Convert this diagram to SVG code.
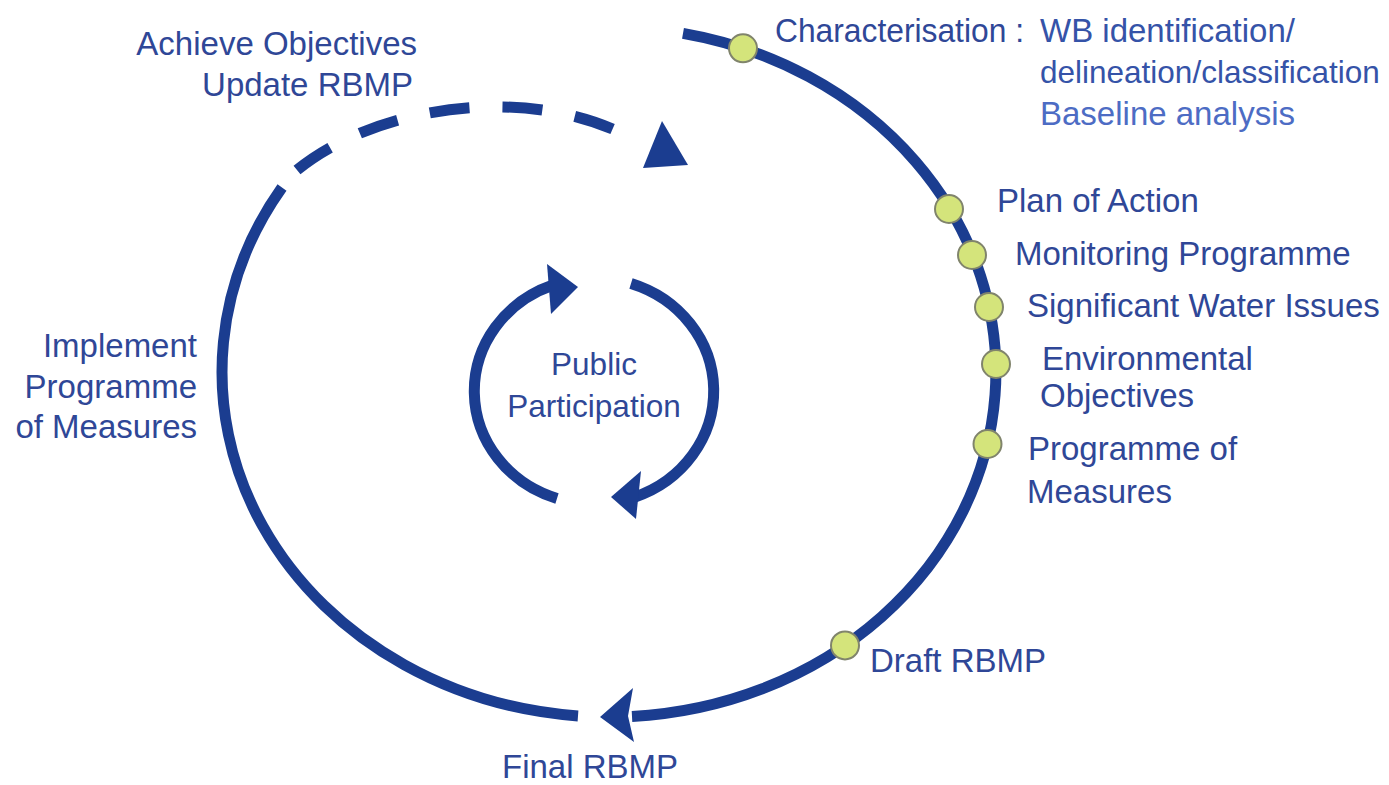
<svg xmlns="http://www.w3.org/2000/svg" width="1389" height="785" viewBox="0 0 1389 785">
<style>
.line{fill:none;stroke:#1b3d90;stroke-width:11;stroke-linecap:butt}
.dash{stroke-dasharray:40 33 40 33 40 33 40 33 40 80}
.head{fill:#1b3d90}
.dot{fill:#d4e47b;stroke:#80846c;stroke-width:2}
.t{font-family:"Liberation Sans",Arial,sans-serif;font-size:33px;fill:#2f4797}
.c{fill:#3553a8}
.b{fill:#4d6cc4}
.pp{font-size:31.5px;text-anchor:middle}
.r{text-anchor:end}
</style>
<rect width="1389" height="785" fill="#ffffff"/>
<g id="connectors">
  <path class="line" d="M 683 33.4 A 387 345 0 0 1 632 716.4"/>
  <polygon class="head" points="600,717 633,688 628,716 634,742"/>
  <path class="line" d="M 578 715.9 A 387 345 0 0 1 282 187.5"/>
  <path class="line dash" d="M 297 170 C 390 95, 560 85, 650 150"/>
  <polygon class="head" points="662,121 643,168 688,165"/>
  <path class="line" d="M 557 498.5 A 120 113 0 0 1 553 285"/>
  <polygon class="head" points="547,264 551,314 578,287"/>
  <path class="line" d="M 631 283.5 A 120 113 0 0 1 635 497"/>
  <polygon class="head" points="641,471 636,519 611,497"/>
</g>
<g id="achieve-objectives">
  <text class="t r" x="417" y="55">Achieve Objectives</text>
  <text class="t r" x="413" y="96">Update RBMP</text>
</g>
<g id="characterisation">
  <circle class="dot" cx="743" cy="48.3" r="14"/>
  <text class="t" x="775" y="42" textLength="249" lengthAdjust="spacingAndGlyphs">Characterisation :</text>
  <text class="t c" x="1040" y="42">WB identification/</text>
  <text class="t c" x="1040" y="83" style="font-size:31.5px">delineation/classification</text>
  <text class="t b" x="1040" y="125">Baseline analysis</text>
</g>
<g id="plan-of-action">
  <circle class="dot" cx="949" cy="209" r="14"/>
  <text class="t" x="997" y="212">Plan of Action</text>
</g>
<g id="monitoring-programme">
  <circle class="dot" cx="972" cy="255" r="14"/>
  <text class="t" x="1015" y="265">Monitoring Programme</text>
</g>
<g id="significant-water-issues">
  <circle class="dot" cx="989" cy="307" r="14"/>
  <text class="t" x="1027" y="317">Significant Water Issues</text>
</g>
<g id="environmental-objectives">
  <circle class="dot" cx="996" cy="364" r="14"/>
  <text class="t" x="1042" y="370">Environmental</text>
  <text class="t" x="1040" y="407">Objectives</text>
</g>
<g id="programme-of-measures">
  <circle class="dot" cx="987.5" cy="444" r="14"/>
  <text class="t" x="1028" y="460">Programme of</text>
  <text class="t" x="1027" y="503">Measures</text>
</g>
<g id="draft-rbmp">
  <circle class="dot" cx="845" cy="645.4" r="14"/>
  <text class="t" x="870" y="672">Draft RBMP</text>
</g>
<g id="final-rbmp">
  <text class="t" x="502" y="778">Final RBMP</text>
</g>
<g id="implement-programme-of-measures">
  <text class="t r" x="197" y="357">Implement</text>
  <text class="t r" x="197" y="398">Programme</text>
  <text class="t r" x="197" y="438">of Measures</text>
</g>
<g id="public-participation">
  <text class="t pp" x="594" y="375">Public</text>
  <text class="t pp" x="594" y="417">Participation</text>
</g>
</svg>
